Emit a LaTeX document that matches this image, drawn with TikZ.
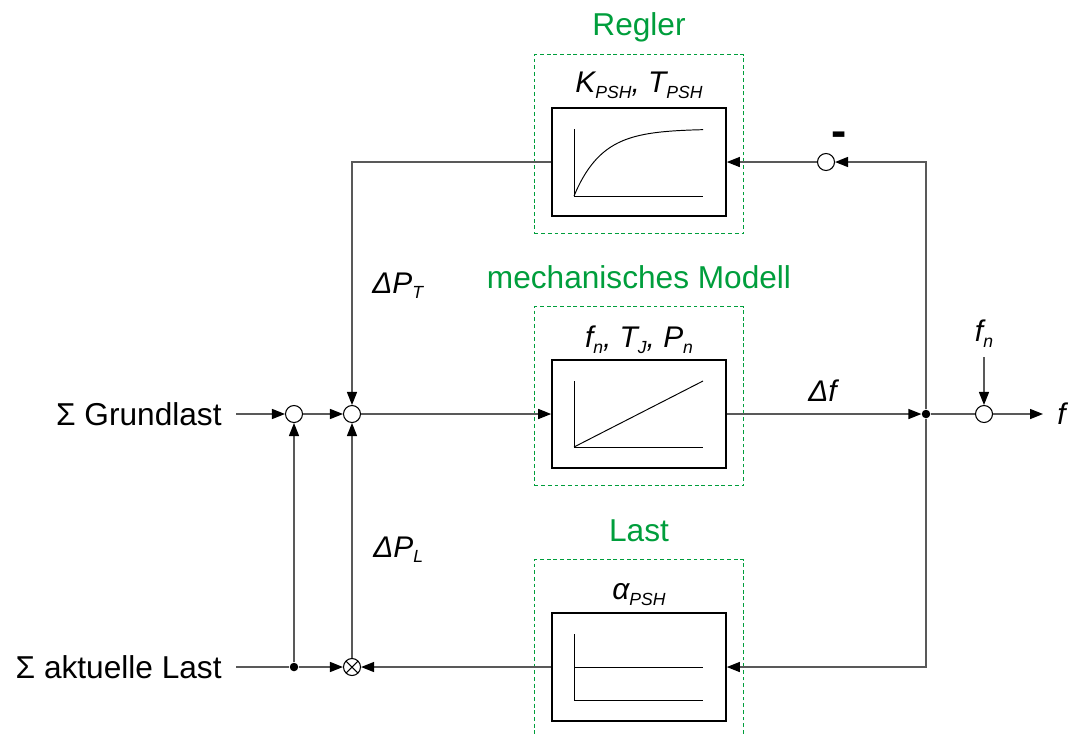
\documentclass[tikz,border=0pt]{standalone}
\usepackage{fontspec}
\setmainfont{Liberation Sans}
\usepackage{tikz}
\usetikzlibrary{arrows.meta, positioning, calc}
\definecolor{grpgreen}{RGB}{0,158,60}
\newcommand{\idx}[1]{\raisebox{-3.4pt}{\fontsize{10}{12}\selectfont #1}}
\tikzset{
  blk/.style   = {draw, line width=0.9pt, minimum width=34.8mm, minimum height=21.6mm, inner sep=0pt},
  grp/.style   = {draw=grpgreen, line width=0.6pt, dash pattern=on 2.2pt off 1.6pt,
                  minimum width=41.8mm, minimum height=35.8mm, inner sep=0pt},
  ttl/.style   = {text=grpgreen, font=\fontsize{18}{21}\selectfont, inner sep=0pt},
  txt/.style   = {font=\fontsize{18}{21}\selectfont, inner sep=0pt},
  var/.style   = {font=\fontsize{17}{20}\selectfont\itshape, inner sep=0pt},
  sum/.style   = {draw, circle, fill=white, line width=0.6pt, minimum size=3.4mm, inner sep=0pt},
  mul/.style   = {sum, path picture={
                    \draw[line width=0.6pt] (path picture bounding box.north west) -- (path picture bounding box.south east)
                      (path picture bounding box.south west) -- (path picture bounding box.north east);}},
  dot/.style   = {circle, fill, minimum size=1.7mm, inner sep=0pt},
  line/.style  = {draw=black!65, line width=0.75pt},
  flow/.style  = {line, -{Triangle[length=2.6mm, width=2mm, color=black]}},
  crv/.style   = {line width=0.55pt},
}

\begin{document}
\begin{tikzpicture}[x=0.2mm, y=-0.2mm]
    \useasboundingbox (0,0) rectangle (1070,735);

    % the three blocks
    \node[blk] (reg)  at (639,162) {};
    \node[blk] (mech) at (639,414) {};
    \node[blk] (last) at (639,667) {};

    \node[grp] (greg)  at ($(reg.center)+(0,-18)$)  {};
    \node[grp] (gmech) at ($(mech.center)+(0,-18)$) {};
    \node[grp] (glast) at ($(last.center)+(0,-18)$) {};

    \node[ttl, anchor=base] (treg)  at ($(greg.north)+(0,-18)$)  {Regler};
    \node[ttl, anchor=base] (tmech) at ($(gmech.north)+(0,-17)$) {mechanisches Modell};
    \node[ttl, anchor=base] (tlast) at ($(glast.north)+(0,-17)$) {Last};

    \node[var, anchor=base] (preg)  at ($(reg.north)+(0,-15)$)  {K\idx{PSH}, T\idx{PSH}};
    \node[var, anchor=base] (pmech) at ($(mech.north)+(0,-12)$) {f\idx{n}, T\idx{J}, P\idx{n}};
    \node[var, anchor=base] (plast) at ($(last.north)+(0,-13)$) {α\idx{PSH}};

    % step responses
    \begin{scope}[shift={(reg.center)}]
      \draw[crv] (-65,-33) -- (-65,34) -- (64,34);
      \draw[crv] plot[domain=0:129, samples=60, smooth] ({-65+\x},{34-67*(1-exp(-\x/28))});
    \end{scope}
    \begin{scope}[shift={(mech.center)}]
      \draw[crv] (-65,-33) -- (-65,33) -- (64,33);
      \draw[crv] (-65,33) -- (64,-33);
    \end{scope}
    \begin{scope}[shift={(last.center)}]
      \draw[crv] (-65,-33) -- (-65,33) -- (64,33);
      \draw[crv] (-65,0) -- (64,0);
    \end{scope}

    % summing points
    \node[sum] (s1)  at (294,414) {};
    \node[sum] (s2)  at (352,414) {};
    \node[mul] (mu)  at (352,667) {};
    \node[sum] (neg) at (826,162) {};
    \node[sum] (s3)  at (984,414) {};
    \node[dot] (jn)  at (926,414) {};
    \node[dot] (bd)  at (294,667) {};
    \node[font=\bfseries\fontsize{26}{26}\selectfont, inner sep=0pt] (minus) at (839,139) {-};

    % inputs and output
    \node[txt, anchor=east, inner xsep=2.8mm] (gl) at (236,414) {Σ Grundlast};
    \node[txt, anchor=east, inner xsep=2.8mm] (al) at (236,667) {Σ aktuelle Last};
    \node[var, anchor=west, inner xsep=2.8mm] (fo) at (1043,414) {f};
    \node[var, anchor=south, inner ysep=1.8mm] (fn) at (984,357) {f\idx{n}};

    \node[var, anchor=base west] (dpt) at (372,293) {ΔP\idx{T}};
    \node[var, anchor=base west] (dpl) at (373,557) {ΔP\idx{L}};
    \node[var, anchor=base west] (df)  at (808,401) {Δf};

    % forward path
    \draw[flow] (gl.east) -- (s1);
    \draw[flow] (s1) -- (s2);
    \draw[flow] (s2) -- (mech);
    \draw[flow] (mech) -- (jn);
    \draw[line] (jn) -- (s3);
    \draw[flow] (s3) -- (fo.west);
    \draw[flow] (fn.south) -- (s3);

    % feedback over the controller
    \draw[flow] (jn) |- (neg);
    \draw[flow] (neg) -- (reg);
    \draw[flow] (reg.west) -| (s2);

    % load path
    \draw[flow] (jn) |- (last);
    \draw[flow] (last) -- (mu);
    \draw[line] (al.east) -- (bd);
    \draw[flow] (bd) -- (mu);
    \draw[flow] (bd) -- (s1);
    \draw[flow] (mu) -- (s2);
\end{tikzpicture}
\end{document}
